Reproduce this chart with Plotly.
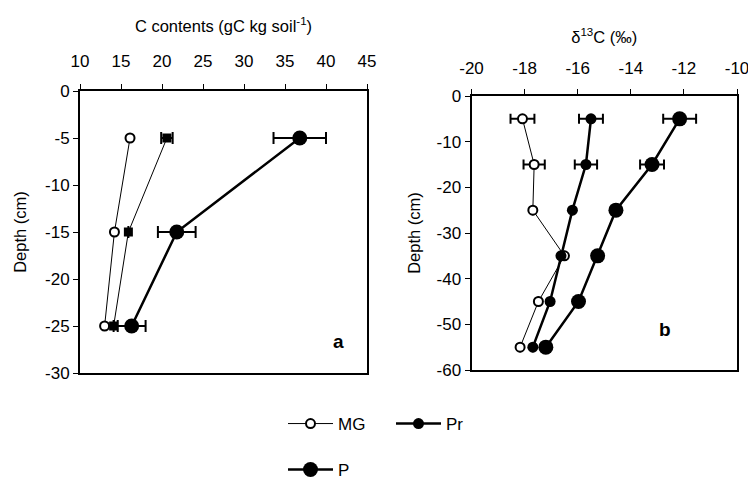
import plotly.graph_objects as go

# ---- data ----
depth_a = [-5, -15, -25]
c_mg = [16.1, 14.2, 13.0]
c_pr = [20.6, 15.9, 14.1]
c_pr_err = [0.7, 0, 0]
c_p = [36.8, 21.8, 16.3]
c_p_err = [3.2, 2.3, 1.7]

depth_b = [-5, -15, -25, -35, -45, -55]
d_mg = [-18.08, -17.64, -17.69, -16.5, -17.48, -18.17]
d_mg_err = [0.45, 0.4, 0, 0, 0, 0]
d_pr = [-15.5, -15.69, -16.2, -16.63, -17.04, -17.69]
d_pr_err = [0.45, 0.42, 0, 0, 0, 0]
d_p = [-12.16, -13.2, -14.56, -15.25, -15.97, -17.2]
d_p_err = [0.62, 0.45, 0, 0, 0, 0]

xa_ticks = [10, 15, 20, 25, 30, 35, 40, 45]
ya_ticks = [0, -5, -10, -15, -20, -25, -30]
xb_ticks = [-20, -18, -16, -14, -12, -10]
yb_ticks = [0, -10, -20, -30, -40, -50, -60]

def lab(v):
    return [str(t) for t in v]

FONT = "Liberation Sans"
fig = go.Figure()

def err(arr, th=2, w=6):
    return dict(type="data", array=arr, visible=True, color="black", thickness=th, width=w)

# panel a
fig.add_trace(go.Scatter(x=c_mg, y=depth_a, mode="lines+markers", xaxis="x", yaxis="y",
    line=dict(color="black", width=1),
    marker=dict(symbol="circle", size=9, color="white", line=dict(color="black", width=2)),
    showlegend=False))
fig.add_trace(go.Scatter(x=c_pr, y=depth_a, mode="lines+markers", xaxis="x", yaxis="y",
    line=dict(color="black", width=1), error_x=err(c_pr_err),
    marker=dict(symbol="square", size=9, color="black"), showlegend=False))
fig.add_trace(go.Scatter(x=c_p, y=depth_a, mode="lines+markers", xaxis="x", yaxis="y",
    line=dict(color="black", width=2.5), error_x=err(c_p_err),
    marker=dict(symbol="circle", size=15, color="black"), showlegend=False))

# panel b
fig.add_trace(go.Scatter(x=d_mg, y=depth_b, mode="lines+markers", xaxis="x2", yaxis="y2",
    name="MG", legend="legend",
    line=dict(color="black", width=1), error_x=err(d_mg_err, w=5),
    marker=dict(symbol="circle", size=9, color="white", line=dict(color="black", width=2))))
fig.add_trace(go.Scatter(x=d_pr, y=depth_b, mode="lines+markers", xaxis="x2", yaxis="y2",
    name="Pr", legend="legend",
    line=dict(color="black", width=2.5), error_x=err(d_pr_err, w=5),
    marker=dict(symbol="circle", size=11, color="black")))
fig.add_trace(go.Scatter(x=d_p, y=depth_b, mode="lines+markers", xaxis="x2", yaxis="y2",
    name="P", legend="legend2",
    line=dict(color="black", width=2.5), error_x=err(d_p_err, w=5),
    marker=dict(symbol="circle", size=15, color="black")))

W, H = 748, 481
def px(x):
    return x / W
def py(y):
    return 1 - y / H

axis_common = dict(showline=True, linecolor="black", linewidth=2, mirror=True,
                   ticks="outside", ticklen=5, tickwidth=1, tickcolor="black",
                   showgrid=False, zeroline=False, automargin=False,
                   ticklabeloverflow="allow",
                   tickfont=dict(family=FONT, size=17, color="black"))

fig.update_layout(
    width=W, height=H, margin=dict(l=0, r=0, t=0, b=0, autoexpand=False),
    paper_bgcolor="white", plot_bgcolor="white",
    font=dict(family=FONT, size=16, color="black"),
    xaxis=dict(domain=[px(80), px(367)], anchor="y", side="top", range=[10, 45],
               tickvals=xa_ticks, ticktext=lab(xa_ticks), ticklabelstandoff=10,
               title=dict(text="C contents (gC kg soil<sup>-1</sup>)", standoff=15,
                          font=dict(family=FONT, size=16.5)),
               **axis_common),
    yaxis=dict(domain=[py(373), py(91)], anchor="x", range=[-30, 0],
               tickvals=ya_ticks, ticktext=lab(ya_ticks), ticklabelstandoff=0,
               title=dict(text="Depth (cm)", standoff=14, font=dict(family=FONT, size=16.5)),
               **axis_common),
    xaxis2=dict(domain=[px(471.5), px(737)], anchor="y2", side="top", range=[-20, -10],
                tickvals=xb_ticks, ticktext=lab(xb_ticks), ticklabelstandoff=8,
                title=dict(text="δ<sup>13</sup>C (‰)", standoff=11,
                           font=dict(family=FONT, size=16.5)),
                **axis_common),
    yaxis2=dict(domain=[py(370), py(96)], anchor="x2", range=[-60, 0],
                tickvals=yb_ticks, ticktext=lab(yb_ticks), ticklabelstandoff=0,
                title=dict(text="Depth (cm)", standoff=12, font=dict(family=FONT, size=16.5)),
                **axis_common),
    legend=dict(orientation="h", x=px(283), y=py(424), xanchor="left", yanchor="middle",
                itemwidth=45, entrywidth=48, entrywidthmode="pixels",
                font=dict(family=FONT, size=17), bgcolor="rgba(0,0,0,0)"),
    legend2=dict(orientation="h", x=px(283), y=py(470), xanchor="left", yanchor="middle",
                 itemwidth=45,
                 font=dict(family=FONT, size=17), bgcolor="rgba(0,0,0,0)"),
    annotations=[
        dict(text="<b>a</b>", x=0.902, y=0.11, xref="x domain", yref="y domain",
             xanchor="center", yanchor="middle",
             showarrow=False, font=dict(family=FONT, size=19)),
        dict(text="<b>b</b>", x=0.729, y=0.146, xref="x2 domain", yref="y2 domain",
             xanchor="center", yanchor="middle",
             showarrow=False, font=dict(family=FONT, size=19)),
    ],
)

fig.write_html("out.html", config={"displayModeBar": False},
               post_script="document.body.style.margin='0';")
